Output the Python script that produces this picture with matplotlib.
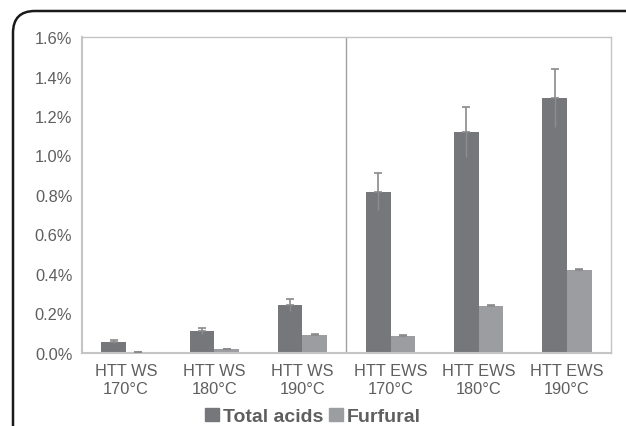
import matplotlib
matplotlib.use('Agg')

import matplotlib.pyplot as plt
import numpy as np
from matplotlib.patches import FancyBboxPatch, Patch
from matplotlib.ticker import FuncFormatter

categories = ['HTT WS\n170°C', 'HTT WS\n180°C', 'HTT WS\n190°C',
              'HTT EWS\n170°C', 'HTT EWS\n180°C', 'HTT EWS\n190°C']
total_acids = [0.057, 0.111, 0.241, 0.817, 1.121, 1.293]
total_err = [0.007, 0.014, 0.030, 0.093, 0.127, 0.147]
furfural = [0.005, 0.020, 0.093, 0.088, 0.240, 0.419]
furfural_err = [0.001, 0.002, 0.003, 0.003, 0.004, 0.006]

dark = '#76777b'
light = '#9c9da1'
text_col = '#5f5f5f'
err_col = '#8a8a8a'

plt.rcParams['font.family'] = ['Liberation Sans', 'DejaVu Sans']

fig = plt.figure(figsize=(6.26, 4.27), dpi=100)
ax = fig.add_axes([0.131, 0.171, 0.845, 0.740])

x = np.arange(len(categories))
w = 0.28

ax.bar(x - w/2, total_acids, w, color=dark, zorder=2)
ax.bar(x + w/2, furfural, w, color=light, zorder=2)

# error bars: cap on top, plain line below
for xs, vals, errs in [(x - w/2, total_acids, total_err), (x + w/2, furfural, furfural_err)]:
    vals = np.array(vals)
    errs = np.array(errs)
    ax.errorbar(xs, vals, yerr=[np.zeros_like(errs), errs], fmt='none',
                ecolor=err_col, elinewidth=1.2, capsize=3, capthick=1.2, zorder=3)
    ax.vlines(xs, vals - errs, vals, color='#8c8d91', lw=1.0, zorder=3)

ax.axvline(2.5, color='#a0a0a0', lw=1.0, zorder=1)

ax.set_xlim(-0.5, 5.5)
ax.set_ylim(0, 1.6)
ax.set_yticks(np.arange(0, 1.61, 0.2))
ax.yaxis.set_major_formatter(FuncFormatter(lambda v, p: f'{v:.1f}%'))
ax.set_xticks(x)
ax.set_xticklabels(categories, linespacing=1.3)
ax.tick_params(axis='both', length=0, labelsize=11.8, labelcolor=text_col)
ax.tick_params(axis='x', pad=7)
ax.tick_params(axis='y', pad=7)
for s in ax.spines.values():
    s.set_color('#c4c4c4')
    s.set_linewidth(1.0)
ax.spines['bottom'].set_linewidth(1.5)
ax.spines['left'].set_linewidth(1.5)

handles = [Patch(color=dark, label='Total acids'), Patch(color=light, label='Furfural')]
leg = fig.legend(handles=handles, loc='center', bbox_to_anchor=(0.5, 0.022), ncol=2,
                 frameon=False, handlelength=0.7, handleheight=0.7, handletextpad=0.2,
                 columnspacing=0.3, prop={'weight': 'bold', 'size': 14})
for t in leg.get_texts():
    t.set_color(text_col)

# outer frame (cropped rounded box)
frame = FancyBboxPatch((13/626, -0.2), 1.2, 1 - 12/427 + 0.2,
                       boxstyle='round,pad=0,rounding_size=0.035',
                       transform=fig.transFigure, fill=False, ec='#1a1a1a', lw=1.8,
                       mutation_aspect=626/427)
fig.patches.append(frame)

fig.savefig('out.png', dpi=100)
